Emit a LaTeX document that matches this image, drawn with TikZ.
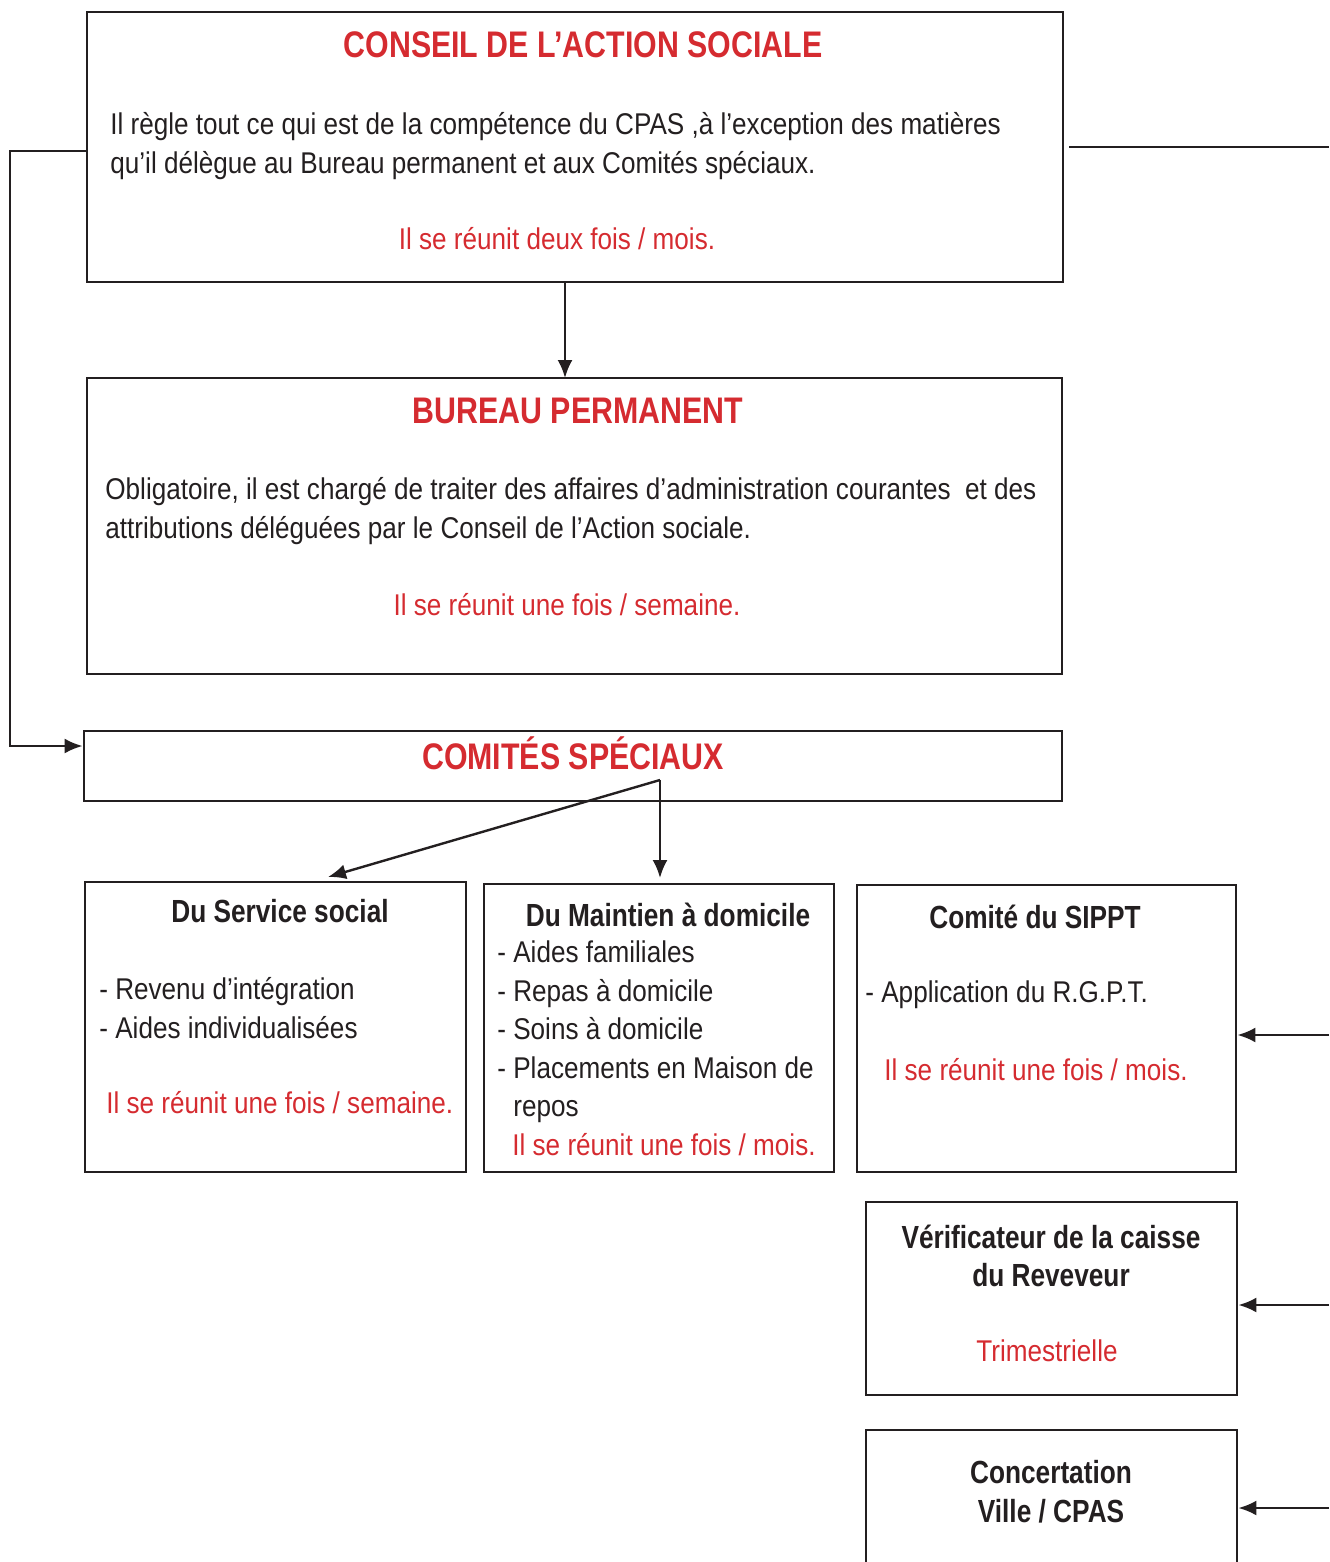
\documentclass[tikz,border=0pt]{standalone}
\usepackage{fontspec}
\setmainfont{Liberation Sans}[FakeStretch=0.87]
\newfontfamily\grasetroit{Liberation Sans}[FakeStretch=0.82]
\usepackage{tikz}
\usetikzlibrary{arrows.meta,positioning,fit}
\definecolor{rouge}{HTML}{D52B30}
\definecolor{encre}{HTML}{231F20}
\tikzset{
	>=Latex,
	cadre/.style={
		draw=encre,
		line width=1.4pt,
		inner sep=0pt
	},
	lien/.style={
		draw=encre,
		line width=1.2pt
	},
	fleche/.style={
		lien,
		-{Latex[length=9pt,width=7.5pt]}
	}
}

\begin{document}
\begin{tikzpicture}[
	x=0.5pt, y=-0.5pt,
	titre/.style={text=rouge, font=\grasetroit\bfseries\fontsize{18.5}{22}\selectfont},
	soustitre/.style={text=encre, font=\grasetroit\bfseries\fontsize{16}{19.3}\selectfont, align=center},
	texte/.style={text=encre, font=\fontsize{15}{19.3}\selectfont, align=left, inner sep=0pt},
	note/.style={text=rouge, font=\fontsize{15}{19.3}\selectfont, inner sep=0pt}
	]
	\useasboundingbox (0,0) rectangle (1329,1562);
	
	%--------------------
	% Cadres
	%--------------------
	\node[cadre, fit={(87,12) (1063,282)}]    (conseil) {};
	\node[cadre, fit={(87,378) (1062,674)}]   (bureau) {};
	\node[cadre, fit={(84,731) (1062,801)}]   (comites) {};
	\node[cadre, fit={(85,882) (466,1172)}]   (social) {};
	\node[cadre, fit={(484,884) (834,1172)}]  (maintien) {};
	\node[cadre, fit={(857,885) (1236,1172)}] (sippt) {};
	\node[cadre, fit={(866,1202) (1237,1395)}] (verif) {};
	\node[cadre, fit={(866,1430) (1237,1600)}] (concert) {};
	
	%--------------------
	% Conseil de l'action sociale
	%--------------------
	\node[titre] (conseiltitre) at (583,45) {CONSEIL DE L’ACTION SOCIALE};
	\node[texte, anchor=west] (conseiltexte) at (110,146) {Il règle tout ce qui est de la compétence du CPAS ,à l’exception des matières\\qu’il délègue au Bureau permanent et aux Comités spéciaux.};
	\node[note] (conseilnote) at (557,239) {Il se réunit deux fois / mois.};
	
	%--------------------
	% Bureau permanent
	%--------------------
	\node[titre] (bureautitre) at (578,411) {BUREAU PERMANENT};
	\node[texte, anchor=west] (bureautexte) at (105,511) {Obligatoire, il est chargé de traiter des affaires d’administration courantes\ \ et des\\attributions déléguées par le Conseil de l’Action sociale.};
	\node[note] (bureaunote) at (567,605) {Il se réunit une fois / semaine.};
	
	%--------------------
	% Comites speciaux
	%--------------------
	\node[titre] (comitestitre) at (573,753) {COMITÉS SPÉCIAUX};
	\coordinate (comitesdepart) at (660,780);
	
	\node[soustitre] (socialtitre) at (280,911) {Du Service social};
	\node[texte, anchor=west] (socialtexte) at (99,1008) {- Revenu d’intégration\\- Aides individualisées};
	\node[note, anchor=west] (socialnote) at (106,1103) {Il se réunit une fois / semaine.};
	
	\node[soustitre] (maintientitre) at (668,915) {Du Maintien à domicile};
	\node[texte, anchor=west] (maintientexte) at (497,1032) {- Aides familiales\\- Repas à domicile\\- Soins à domicile\\- Placements en Maison de\\\phantom{- }repos};
	\node[note, anchor=west] (maintiennote) at (512,1145) {Il se réunit une fois / mois.};
	
	%--------------------
	% Colonne de droite
	%--------------------
	\node[soustitre] (sippttitre) at (1035,917) {Comité du SIPPT};
	\node[texte, anchor=west] (sippttexte) at (865,995) {- Application du R.G.P.T.};
	\node[note, anchor=west] (ssipptnote) at (884,1070) {Il se réunit une fois / mois.};
	
	\node[soustitre] (veriftitre) at (1051,1256) {Vérificateur de la caisse\\du Reveveur};
	\node[note] (verifnote) at (1047,1351) {Trimestrielle};
	
	\node[soustitre] (concerttitre) at (1051,1492) {Concertation\\Ville / CPAS};
	
	\coordinate (haut) at (1329,147);
	\coordinate (bas1) at (1329,1035);
	\coordinate (bas2) at (1329,1305);
	\coordinate (bas3) at (1329,1508);
	\coordinate (gauche1) at (10,151);
	\coordinate (gauche2) at (10,746);
	
	%--------------------
	% Liaisons
	%--------------------
	\draw[fleche] (565,282) -- (565,378);
	\draw[fleche] (conseil.west |- gauche1) -- (gauche1) -- (gauche2) -- (comites.west |- gauche2);
	\draw[fleche] (comitesdepart) -- (660,878);
	\draw[fleche] (comitesdepart) -- (328,877);
	\draw[lien] ([xshift=2.5pt]conseil.east |- haut) -- (haut);
	\draw[fleche] (bas1) -- (sippt.east |- bas1);
	\draw[fleche] (bas2) -- (verif.east |- bas2);
	\draw[fleche] (bas3) -- (concert.east |- bas3);
\end{tikzpicture}
\end{document}
